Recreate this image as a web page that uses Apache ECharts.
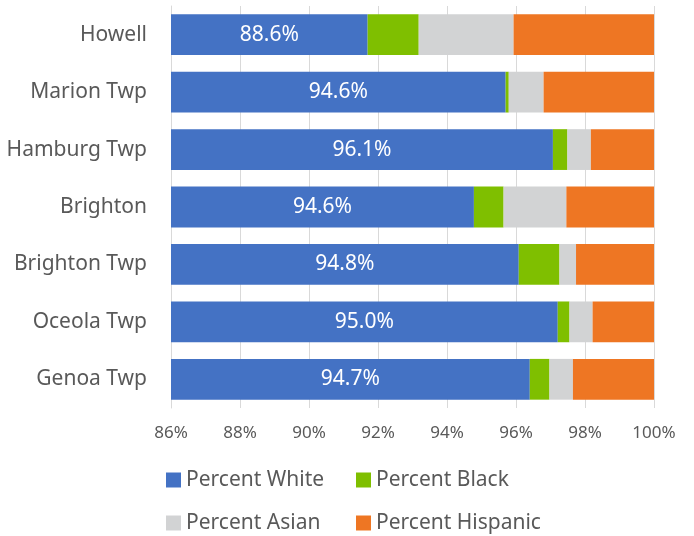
<!DOCTYPE html>
<html>
<head>
<meta charset="utf-8">
<script src="https://cdn.jsdelivr.net/npm/echarts@6/dist/echarts.min.js"></script>
<style>
  html, body { margin: 0; padding: 0; background: #fff; }
  #chart { width: 694px; height: 536px; }
</style>
</head>
<body>
<div id="chart"></div>
<script>
// categories, top to bottom
var places = ['Howell', 'Marion Twp', 'Hamburg Twp', 'Brighton', 'Brighton Twp', 'Oceola Twp', 'Genoa Twp'];

// share of the 100% bar per group
var pctWhite    = [91.70, 95.70, 97.07, 94.78, 96.08, 97.21, 96.40];
var pctBlack    = [1.48, 0.09, 0.42, 0.86, 1.18, 0.34, 0.57];
var pctAsian    = [2.75, 1.01, 0.68, 1.82, 0.48, 0.67, 0.68];
var pctHispanic = [4.07, 3.20, 1.83, 2.54, 2.26, 1.78, 2.35];

// printed labels on the white bars
var whiteLabels = ['88.6%', '94.6%', '96.1%', '94.6%', '94.8%', '95.0%', '94.7%'];

var fontName = '"Noto Sans", "Open Sans", sans-serif';
var textGray = '#595959';

var chart = echarts.init(document.getElementById('chart'));

function barSeries(name, data, color) {
	return {
		name: name,
		type: 'bar',
		stack: 'total',
		barCategoryGap: '29%',
		itemStyle: { color: color },
		emphasis: { disabled: true },
		data: data
	};
}

var white = barSeries('Percent White', pctWhite, '#4472C4');
white.label = {
	show: true,
	position: 'inside',
	color: '#fff',
	fontFamily: fontName,
	fontSize: 21,
	formatter: function(p) { return whiteLabels[p.dataIndex]; }
};

// legend column (two rows each)
function legendCol(left, names) {
	return {
		orient: 'vertical',
		left: left,
		top: 469,
		padding: 0,
		itemWidth: 15,
		itemHeight: 15,
		itemGap: 21,
		icon: 'rect',
		data: names,
		textStyle: { color: textGray, fontFamily: fontName, fontSize: 21, lineHeight: 22 }
	};
}

chart.setOption({
	animation: false,
	grid: {
		left: 171,
		right: 40,
		top: 6,
		bottom: 128
	},
	xAxis: {
		type: 'value',
		min: 86,
		max: 100,
		interval: 2,
		axisLine: { show: false },
		axisTick: { show: false },
		splitLine: { lineStyle: { color: '#D9D9D9', width: 1 } },
		axisLabel: {
			formatter: '{value}%',
			color: textGray,
			fontFamily: fontName,
			fontSize: 17,
			margin: 17
		}
	},
	yAxis: {
		type: 'category',
		inverse: true,
		data: places,
		axisLine: { show: true, lineStyle: { color: '#D9D9D9' } },
		axisTick: { show: false },
		axisLabel: {
			color: textGray,
			fontFamily: fontName,
			fontSize: 21,
			margin: 24
		}
	},
	legend: [
		legendCol(166, ['Percent White', 'Percent Asian']),
		legendCol(356, ['Percent Black', 'Percent Hispanic'])
	],
	series: [
		white,
		barSeries('Percent Black', pctBlack, '#7FBF00'),
		barSeries('Percent Asian', pctAsian, '#D2D3D4'),
		barSeries('Percent Hispanic', pctHispanic, '#EE7623')
	]
});
</script>
</body>
</html>
